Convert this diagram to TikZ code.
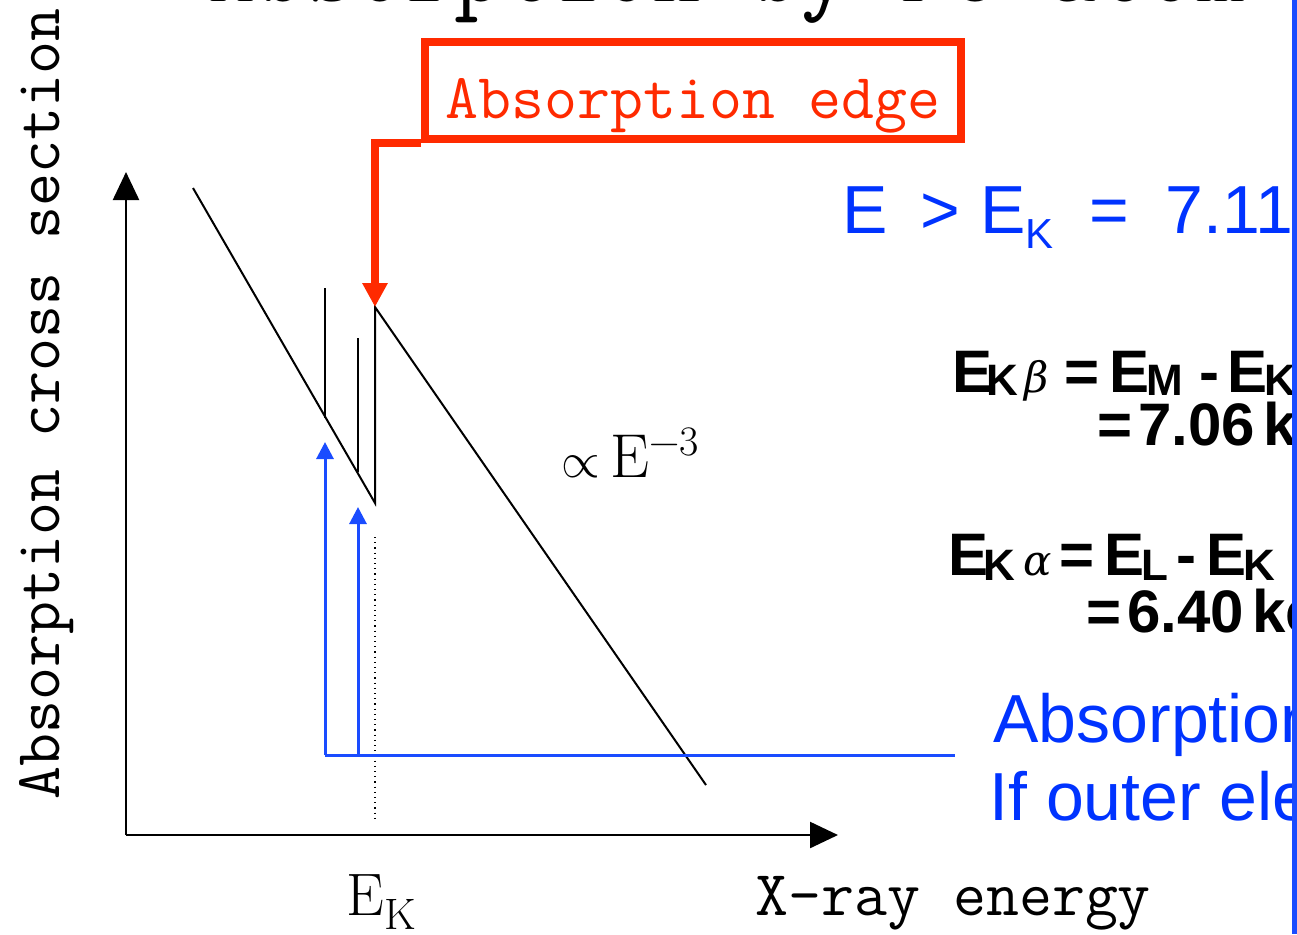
\documentclass[tikz,border=0pt]{standalone}
\usepackage{fontspec}
\newfontfamily\arialfont{Liberation Sans}
\newfontfamily\greekfont{DejaVu Serif}
\usepackage{tikz}
\usetikzlibrary{arrows.meta}
\definecolor{edgered}{HTML}{FF2A00}
\definecolor{lineblue}{HTML}{1A4CFF}
\definecolor{textblue}{HTML}{0033FF}
\newcommand{\subK}[2]{\raisebox{#1}{\fontsize{22}{22}\selectfont #2}}
\newcommand{\grk}[1]{{\greekfont\mdseries\itshape\fontsize{21}{21}\selectfont #1}}

\begin{document}
\begin{tikzpicture}[x=0.5pt,y=-0.5pt,
    curve/.style={black, line width=1pt},
    axisline/.style={black, line width=1.2pt, -{Triangle[length=14pt,width=13pt]}},
    bluearrow/.style={lineblue, line width=1.5pt, -{Triangle[length=8.5pt,width=8.5pt]}},
    redbox/.style={draw=edgered, line width=4pt, text=edgered, minimum width=268pt,
        minimum height=48.5pt, inner sep=0pt, text height=28pt, text depth=0pt,
        font=\ttfamily\fontsize{32}{32}\selectfont},
    monolbl/.style={font=\ttfamily\fontsize{32}{32}\selectfont, inner sep=0pt},
    bluetxt/.style={textblue, font=\arialfont\fontsize{34}{34}\selectfont, inner sep=0pt, anchor=base west},
    boldtxt/.style={font=\arialfont\bfseries\fontsize{30}{30}\selectfont, inner sep=0pt, anchor=base west}]
    \useasboundingbox (0,0) rectangle (1297,934);
    \clip (0,0) rectangle (1297,934);

    % title, cut by the top of the slide
    \node[font=\ttfamily\fontsize{48}{48}\selectfont, anchor=base west, inner sep=0pt] (title) at (207,1) {Absorption by Fe atom};

    % axes
    \coordinate (O) at (126,835);
    \coordinate (ytop) at (126,172);
    \coordinate (xend) at (838,835);
    \draw[axisline] (O) -- (ytop);
    \draw[axisline] (O) -- (xend);
    \node[monolbl, rotate=90, anchor=base west] (ylbl) at (60,800) {Absorption cross section};
    \node[monolbl, anchor=base west] (xlbl) at (755,915) {X-ray energy};
    \node[font=\rmfamily\fontsize{30}{30}\selectfont, anchor=base west, inner sep=0pt] (eklbl) at (346,915)
        {E\raisebox{-7pt}{\fontsize{22}{22}\selectfont K}};

    % cross section with the L edges and the K edge
    \coordinate (hi) at (193,188);
    \coordinate (dip) at (375,503);
    \coordinate (edge) at (375,307);
    \coordinate (tail) at (706,785);
    \coordinate (Ltop) at (325,288);
    \coordinate (Lbot) at (325,418);
    \coordinate (Mtop) at (358,338);
    \coordinate (Mbot) at (358,472);
    \draw[curve] (hi) -- (dip) -- (edge) -- (tail);
    \draw[curve] (Ltop) -- (Lbot);
    \draw[curve] (Mtop) -- (Mbot);
    \coordinate (dtop) at (375,537);
    \coordinate (dbot) at (375,818);
    \draw[dotted, line width=0.6pt] (dtop) -- (dbot);
    \node[font=\rmfamily\fontsize{31}{31}\selectfont, anchor=base west, inner sep=0pt] (power) at (561,477)
        {{\fontsize{24.88}{24.88}\selectfont$\propto$}\hspace{5pt}E\raisebox{11pt}{\fontsize{21}{21}\selectfont −3}};

    % blue level lines
    \coordinate (b1) at (325,755);
    \coordinate (b2) at (358,755);
    \coordinate (bend) at (955,755);
    \coordinate (t1) at (325,442);
    \coordinate (t2) at (358,507);
    \draw[lineblue, line width=1.5pt] (b1) -- (bend);
    \draw[bluearrow] (b1) -- (t1);
    \draw[bluearrow] (b2) -- (t2);

    % absorption edge callout
    \node[redbox] (edgebox) at (693,90) {Absorption edge};
    \draw[edgered, line width=4pt, -{Triangle[length=12pt,width=12pt]}] (edgebox.south west) -| (edge);

    % right-hand texts
    \node[bluetxt] (ekcond) at (842,233)
        {E\hspace{16.5pt}>\hspace{10pt}E\raisebox{-7.5pt}{\fontsize{21}{21}\selectfont K}\hspace{18pt}=\hspace{18pt}7.11};
    \node[boldtxt] (kbeta) at (952,392)
        {E\hspace{-3pt}\subK{-1.5pt}{K}\hspace{3pt}\grk{β}\hspace{8pt}=\hspace{5pt}E\hspace{-1.5pt}\subK{-1.5pt}{M}\hspace{8pt}-\hspace{4pt}E\hspace{-1.5pt}\subK{-1.5pt}{K}};
    \node[boldtxt] (kbval) at (1097,445) {=\hspace{3pt}7.06\hspace{4pt}keV};
    \node[boldtxt] (kaval) at (1086,632) {=\hspace{3pt}6.40\hspace{4pt}keV};
    \node[boldtxt] (kalpha) at (948,575)
        {E\hspace{-2.5pt}\subK{-2.5pt}{K}\hspace{4pt}\grk{α}\hspace{4pt}=\hspace{5pt}E\hspace{-1.5pt}\subK{-2.5pt}{L}\hspace{4pt}-\hspace{5pt}E\hspace{-1.5pt}\subK{-2.5pt}{K}};
    \node[bluetxt] (abstxt) at (993,742) {Absorption};
    \node[bluetxt] (outertxt) at (989,820) {If outer ele};

    % border of the next panel
    \fill[lineblue] (1292,0) rectangle (1297,934);
\end{tikzpicture}
\end{document}
